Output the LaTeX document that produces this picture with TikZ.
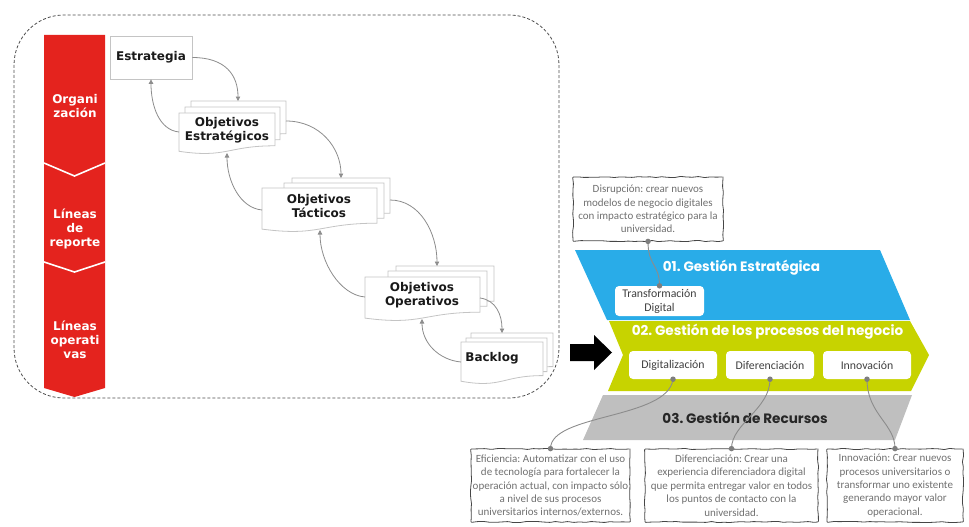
\documentclass[tikz,border=0pt]{standalone}
\usepackage{fontspec}
\setmainfont{DejaVu Sans}
\newfontfamily\cfont{Carlito}
\newfontfamily\gfont{Poppins}
\usetikzlibrary{arrows.meta,decorations.pathmorphing,calc}
\frenchspacing
\definecolor{redbar}{RGB}{228,35,30}
\definecolor{blueband}{RGB}{41,172,232}
\definecolor{greenband}{RGB}{199,211,0}
\definecolor{grayband}{RGB}{191,191,191}
\definecolor{docgray}{RGB}{196,196,196}
\definecolor{arrgray}{RGB}{140,140,140}
\definecolor{notetxt}{RGB}{112,112,112}
\definecolor{noteline}{RGB}{70,70,70}
\definecolor{boxtxt}{RGB}{64,64,64}
\newcommand\docshp[4]{%
  \filldraw[docline] (#1,#2) -- (#3,#2) -- (#3,{#2+0.8*#4})
    .. controls ({(#1+#3)/2},{#2+0.8*#4}) and ({(#1+#3)/2},{#2+1.108*#4}) .. (#1,{#2+0.934*#4}) -- cycle;}
\tikzset{
  docline/.style={draw=docgray, fill=white, line width=0.8pt},
  doctext/.style={font=\fontsize{12}{14.5}\selectfont\bfseries, text=black!90, align=center, inner sep=0pt},
  redtext/.style={font=\fontsize{12}{14}\selectfont\bfseries, text=white, align=center, inner sep=0pt},
  flowarrow/.style={draw=arrgray, line width=0.8pt, -{Triangle[width=4.5pt,length=4.5pt]}},
  bandtitle/.style={font=\gfont\bfseries\fontsize{13.6}{15}\selectfont, text=white, inner sep=0pt},
  whitebox/.style={fill=white, rounded corners=4pt, minimum height=28pt, minimum width=88pt, inner sep=0pt,
     font=\cfont\fontsize{11.8}{14}\selectfont, text=boxtxt, align=center},
  sketch/.style={draw=noteline, line width=0.8pt, decorate,
     decoration={random steps, segment length=6pt, amplitude=0.6pt}, rounded corners=0.8pt,
     inner sep=0pt, align=center, font=\cfont\fontsize{11}{13.4}\selectfont, text=notetxt},
  link/.style={draw=arrgray, line width=0.9pt},
  linkdot/.style={fill=arrgray!90!black, draw=none, circle, minimum size=5.5pt, inner sep=0pt}
}
\begin{document}
\begin{tikzpicture}[x=1pt,y=-1pt]
\useasboundingbox (0,0) rectangle (969,527);
% dashed frame
\draw[draw=black!70, line width=0.8pt, dash pattern=on 3pt off 2pt, rounded corners=50pt]
  (14,15) rectangle (559,398);
% red bar
\fill[redbar] (44,35) -- (105,35) -- (105,388) -- (74.5,397) -- (44,388) -- cycle;
\draw[white, line width=1.6pt] (44,163) -- (74.5,176) -- (105,163);
\draw[white, line width=1.6pt] (44,262) -- (74.5,272) -- (105,262);
\node[redtext] (r1) at (75,106) {Organi\\zación};
\node[redtext] (r2) at (75,229) {Líneas\\de\\reporte};
\node[redtext] (r3) at (75,340) {Líneas\\operati\\vas};
% Estrategia
\node[draw=docgray, line width=0.8pt, fill=white, minimum width=82pt, minimum height=43pt, inner sep=0pt,
  font=\fontsize{12}{14.5}\selectfont\bfseries, text=black!90] (est) at (151,57.5) {Estrategia};
% stacks
\docshp{191}{101}{286}{41}\docshp{185}{107}{280}{41}\docshp{179}{113}{275}{41}
\docshp{292}{178}{390}{44}\docshp{284}{183}{384}{44}\docshp{262}{188}{377}{44}
\docshp{396}{266}{494}{44}\docshp{388}{271}{487}{44}\docshp{365}{277}{480}{44}
\docshp{471}{333}{553}{42}\docshp{466}{338}{547}{42}\docshp{461}{342}{543}{42}
\node[doctext] (oe) at (227,130) {Objetivos\\Estratégicos};
\node[doctext] (ot) at (319,206) {Objetivos\\Tácticos};
\node[doctext] (op) at (422,295) {Objetivos\\Operativos};
\node[doctext] (bl) at (492,358) {Backlog};
\coordinate (oe-top) at (238,101);
\coordinate (oe-w) at (179,132);
\coordinate (oe-e) at (286,121);
\coordinate (oe-b) at (227,153);
\coordinate (ot-top) at (341,178);
\coordinate (ot-w) at (262,210);
\coordinate (ot-e) at (390,200);
\coordinate (ot-b) at (320,230);
\coordinate (op-top) at (437,266);
\coordinate (op-w) at (365,297);
\coordinate (op-e) at (480,298);
\coordinate (op-b) at (422,319);
\coordinate (bl-top) at (502,333);
\coordinate (bl-w) at (461,362);
\draw[flowarrow] (est.east) .. controls +(33,0) and +(0,-26) .. (oe-top);
\draw[flowarrow] (oe-w) .. controls +(-20,-2) and +(0,26) .. (est.south);
\draw[flowarrow] (oe-e) .. controls +(34,0) and +(0,-30) .. (ot-top);
\draw[flowarrow] (ot-w) .. controls +(-22,-2) and +(0,28) .. (oe-b);
\draw[flowarrow] (ot-e) .. controls +(30,0) and +(0,-33) .. (op-top);
\draw[flowarrow] (op-w) .. controls +(-25,-2) and +(0,32) .. (ot-b);
\draw[flowarrow] (op-e) .. controls +(16,2) and +(0,-18) .. (bl-top);
\draw[flowarrow] (bl-w) .. controls +(-22,-2) and +(0,24) .. (op-b);
% black arrow
\fill[black] (570,344) -- (594,344) -- (594,335) -- (612,352.5) -- (594,370) -- (594,361) -- (570,361) -- cycle;
% bands
\fill[blueband] (575,250) -- (880,250) -- (910,320) -- (607,320) -- cycle;
\fill[greenband] (609,321) -- (910,321) -- (929,355) -- (911,391) -- (608,391) -- (623,355) -- cycle;
\fill[grayband] (603,395) -- (912,395) -- (895,440) -- (583,440) -- cycle;
\node[bandtitle] (t1) at (741.5,268) {01. Gestión Estratégica};
\node[bandtitle] (t2) at (767.5,332) {02. Gestión de los procesos del negocio};
\node[bandtitle, text=black!85] (t3) at (745,418) {03. Gestión de Recursos};
% white boxes
\node[whitebox, minimum width=89pt, minimum height=30pt] (td) at (659.5,301) {Transformación\\Digital};
\node[whitebox] (dig) at (673,365) {Digitalización};
\node[whitebox] (dif) at (770,365) {Diferenciación};
\node[whitebox] (inn) at (867,365) {Innovación};
% notes
\node[sketch, minimum width=150pt, minimum height=64pt] (n0) at (648,209)
  {Disrupción: crear nuevos\\modelos de negocio digitales\\con impacto estratégico para la\\universidad.};
\node[sketch, minimum width=159pt, minimum height=73pt] (n1) at (550.5,485.5)
  {Eficiencia: Automatizar con el uso\\de tecnología para fortalecer la\\operación actual, con impacto sólo\\a nivel de sus procesos\\universitarios internos/externos.};
\node[sketch, minimum width=173pt, minimum height=73pt] (n2) at (731.5,485.5)
  {Diferenciación: Crear una\\experiencia diferenciadora digital\\que permita entregar valor en todos\\los puntos de contacto con la\\universidad.};
\node[sketch, minimum width=136pt, minimum height=73pt] (n3) at (895,485.5)
  {Innovación: Crear nuevos\\procesos universitarios o\\transformar uno existente\\generando mayor valor\\operacional.};
% links
\draw[link] (n0.south) .. controls +(0,25) and +(0,-22) .. (td.north);
\draw[link] (dig.south) .. controls +(-5,40) and +(0,-35) .. (n1.north);
\draw[link] (dif.south) .. controls +(0,30) and +(0,-25) .. (n2.north);
\draw[link] (inn.south) .. controls +(0,35) and +(0,-25) .. (n3.north);
\foreach \p in {n0.south, td.north, dig.south, n1.north, dif.south, n2.north, inn.south, n3.north}
  \node[linkdot] at (\p) {};
\end{tikzpicture}
\end{document}
